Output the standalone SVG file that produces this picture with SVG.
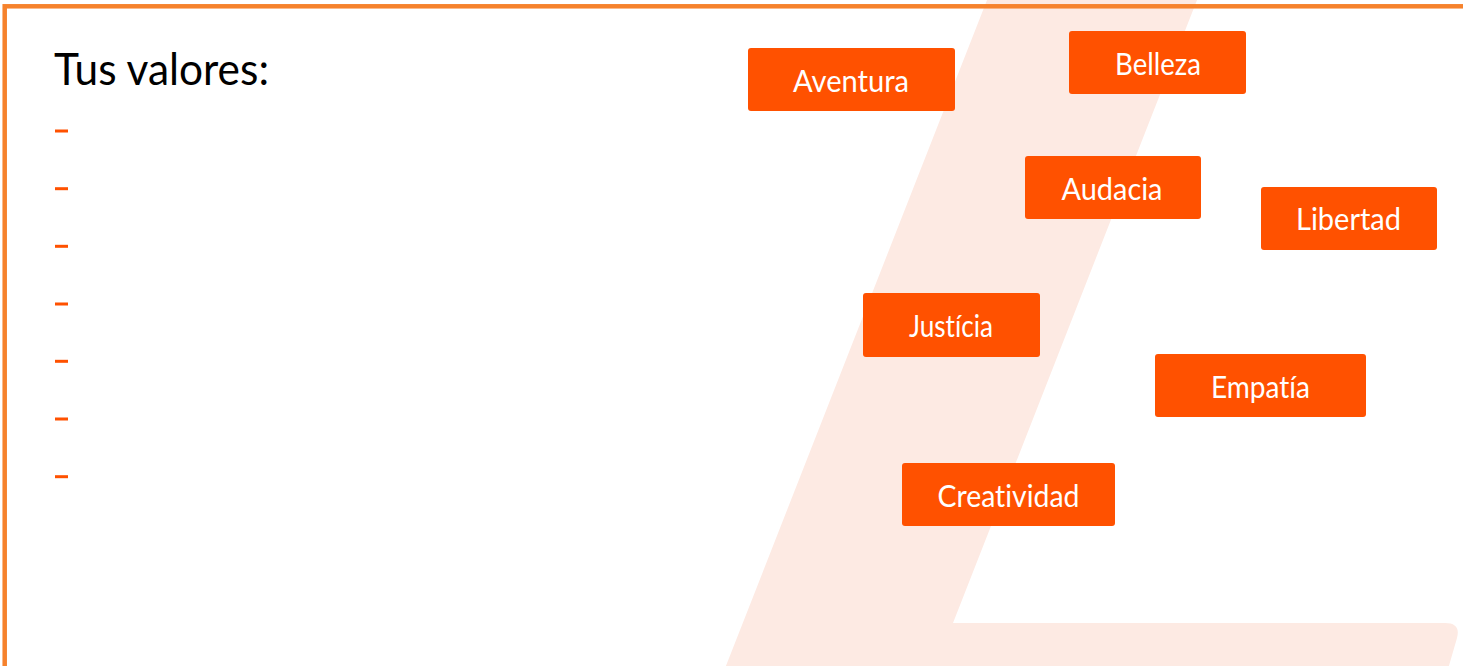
<svg xmlns="http://www.w3.org/2000/svg" width="1463" height="666" viewBox="0 0 1463 666">
  <style>
    .box { fill: #FF5100; }
    .lbl { fill: #FFFFFF; font-family: Lato, "Open Sans", "DejaVu Sans", sans-serif; font-size: 31px; text-anchor: middle; font-variant-ligatures: none; font-feature-settings: "liga" 0, "clig" 0; }
    .dash { fill: #FF5100; }
    .title { fill: #000000; font-family: Lato, "Open Sans", "DejaVu Sans", sans-serif; font-size: 44px; font-variant-ligatures: none; }
  </style>
  <rect x="0" y="0" width="1463" height="666" fill="#FFFFFF"/>
  <g id="background">
    <path d="M 989,-5 L 1199,-5 L 953,623 L 1445,623 Q 1461,623 1457,638 L 1446,676 L 722,676 Z" fill="#FDEAE3"/>
  </g>
  <g id="title">
    <text class="title" x="54" y="85" textLength="215" lengthAdjust="spacingAndGlyphs">Tus valores:</text>
  </g>
  <g id="dashes">
    <rect class="dash" x="55" y="129.5" width="13" height="3"/>
    <rect class="dash" x="55" y="187.2" width="13" height="3"/>
    <rect class="dash" x="55" y="244.8" width="13" height="3"/>
    <rect class="dash" x="55" y="302.5" width="13" height="3"/>
    <rect class="dash" x="55" y="359.8" width="13" height="3"/>
    <rect class="dash" x="55" y="417.5" width="13" height="3"/>
    <rect class="dash" x="55" y="475.2" width="13" height="3"/>
  </g>
  <g id="connectors"></g>
  <g id="node-aventura">
    <rect class="box" x="748" y="48" width="207" height="63" rx="3"/>
    <text class="lbl" x="851" y="92" textLength="116" lengthAdjust="spacingAndGlyphs">Aventura</text>
  </g>
  <g id="node-belleza">
    <rect class="box" x="1069" y="31" width="177" height="63" rx="3"/>
    <text class="lbl" x="1158" y="74.5" textLength="86" lengthAdjust="spacingAndGlyphs">Belleza</text>
  </g>
  <g id="node-audacia">
    <rect class="box" x="1025" y="156" width="176" height="63" rx="3"/>
    <text class="lbl" x="1112" y="199.5" textLength="101" lengthAdjust="spacingAndGlyphs">Audacia</text>
  </g>
  <g id="node-libertad">
    <rect class="box" x="1261" y="187" width="176" height="63" rx="3"/>
    <text class="lbl" x="1348.5" y="230" textLength="105" lengthAdjust="spacingAndGlyphs">Libertad</text>
  </g>
  <g id="node-justicia">
    <rect class="box" x="863" y="293" width="177" height="64" rx="3"/>
    <text class="lbl" x="951" y="336.7" textLength="84" lengthAdjust="spacingAndGlyphs">Justícia</text>
  </g>
  <g id="node-empatia">
    <rect class="box" x="1155" y="354" width="211" height="63" rx="3"/>
    <text class="lbl" x="1260.5" y="397.5" textLength="99" lengthAdjust="spacingAndGlyphs">Empatía</text>
  </g>
  <g id="node-creatividad">
    <rect class="box" x="902" y="463" width="213" height="63" rx="3"/>
    <text class="lbl" x="1008.5" y="506.7" textLength="142" lengthAdjust="spacingAndGlyphs">Creatividad</text>
  </g>
  <g id="frame">
    <rect x="4.7" y="6.3" width="1480" height="690" fill="none" stroke="#F6822C" stroke-width="4.5"/>
  </g>
</svg>
